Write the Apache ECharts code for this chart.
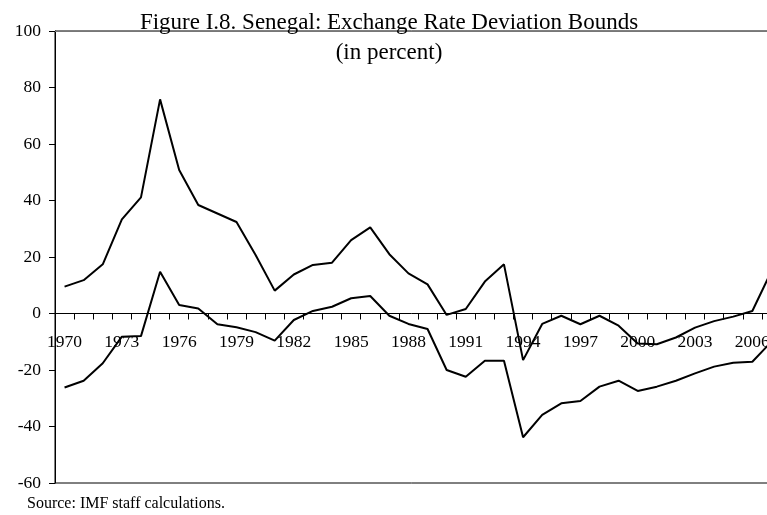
<!DOCTYPE html>
<html>
<head>
<meta charset="utf-8">
<script src="https://cdn.jsdelivr.net/npm/echarts@6/dist/echarts.min.js"></script>
<style>
html,body{margin:0;padding:0;background:#fff;}
#c{width:767px;height:515px;}
</style>
</head>
<body>
<div id="c"></div>
<script>
var years = ['1970','1971','1972','1973','1974','1975','1976','1977','1978','1979',
  '1980','1981','1982','1983','1984','1985','1986','1987','1988','1989',
  '1990','1991','1992','1993','1994','1995','1996','1997','1998','1999',
  '2000','2001','2002','2003','2004','2005','2006','2007'];
var upperBound = [9.5, 11.8, 17.4, 33.3, 41.1, 75.8, 50.8, 38.4, 35.4, 32.4,
  20.7, 8.1, 13.8, 17.2, 18.0, 26.0, 30.5, 21.0, 14.2, 10.3,
  -0.5, 1.6, 11.3, 17.4, -16.5, -3.7, -0.8, -3.8, -0.8, -4.3,
  -10.6, -10.9, -8.5, -5.0, -2.7, -1.1, 0.9, 15.0];
var lowerBound = [-26.2, -23.8, -17.6, -8.2, -8.0, 14.8, 3.0, 1.8, -3.8, -4.9,
  -6.6, -9.6, -2.3, 0.9, 2.4, 5.4, 6.2, -0.8, -3.7, -5.5,
  -20.0, -22.4, -16.7, -16.7, -43.8, -35.9, -31.8, -31.0, -25.9, -23.8,
  -27.4, -25.9, -23.8, -21.2, -18.8, -17.4, -17.1, -10.0];
var yTicks = [-60, -40, -20, 0, 20, 40, 60, 80, 100];
var titleText = 'Figure I.8. Senegal: Exchange Rate Deviation Bounds\n(in percent)';
var sourceText = 'Source: IMF staff calculations.';

var serif = 'Liberation Serif';
var gridTop = 31, gridBottom = 32, gridH = 515 - gridTop - gridBottom;
var yMin = yTicks[0], yMax = yTicks[yTicks.length - 1];
// distance from bottom edge to the zero line, computed through the same linear scale
var zeroOffset = gridH * (0 - yMin) / (yMax - yMin);

var chart = echarts.init(document.getElementById('c'), null, {renderer: 'canvas'});
chart.setOption({
  animation: false,
  backgroundColor: '#fff',
  title: [{
    text: titleText,
    left: 389,
    top: 8,
    textAlign: 'center',
    padding: 0,
    textStyle: {fontFamily: serif, fontSize: 23, fontWeight: 'normal', color: '#000', lineHeight: 30}
  }, {
    text: sourceText,
    left: 27,
    top: 496,
    padding: 0,
    textStyle: {fontFamily: serif, fontSize: 16, fontWeight: 'normal', color: '#000'}
  }],
  grid: {
    left: 55, top: gridTop, bottom: gridBottom, width: 726,
    outerBoundsMode: 'none',
    show: true, borderColor: '#000', borderWidth: 1, backgroundColor: 'transparent',
    containLabel: false
  },
  xAxis: [{
    type: 'category',
    data: years,
    boundaryGap: true,
    offset: -zeroOffset,
    axisLine: {onZero: false, lineStyle: {color: '#000', width: 1}},
    axisTick: {show: true, interval: 0, length: 6, inside: false, lineStyle: {color: '#000'}},
    axisLabel: {interval: 2, margin: 20, fontFamily: serif, fontSize: 17.5, color: '#000'},
    splitLine: {show: false}
  }, {
    type: 'category',
    data: years,
    position: 'top',
    axisLine: {show: true, onZero: false, lineStyle: {color: '#777', width: 1}},
    axisTick: {show: false},
    axisLabel: {show: false},
    splitLine: {show: false}
  }],
  yAxis: {
    type: 'value',
    min: yMin,
    max: yMax,
    interval: yTicks[1] - yTicks[0],
    axisLine: {show: true, onZero: false, lineStyle: {color: '#000', width: 1}},
    axisTick: {show: true, length: 6, inside: false, lineStyle: {color: '#000'}},
    axisLabel: {margin: 14, fontFamily: serif, fontSize: 17.5, color: '#000'},
    splitLine: {show: false}
  },
  series: [{
    name: 'Upper bound',
    type: 'line',
    data: upperBound,
    symbol: 'none',
    lineStyle: {color: '#000', width: 2},
    itemStyle: {color: '#000'}
  }, {
    name: 'Lower bound',
    type: 'line',
    data: lowerBound,
    symbol: 'none',
    lineStyle: {color: '#000', width: 2},
    itemStyle: {color: '#000'}
  }]
});
</script>
</body>
</html>
